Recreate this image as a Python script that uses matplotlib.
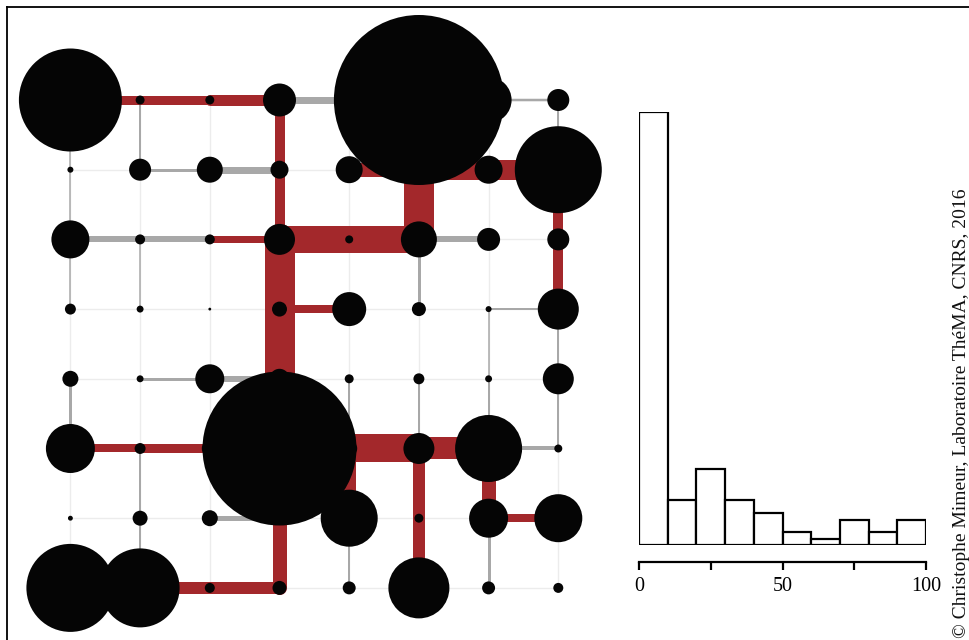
import numpy as np
import matplotlib
matplotlib.use("Agg")
import matplotlib.pyplot as plt
from matplotlib.lines import Line2D

# ---------------- data ----------------
# node weights (8 x 8 grid, row 0 = top); marker radius ~ sqrt(weight)
node_weight = [
    [2652, 20, 20, 272, 64, 7225, 529, 121],
    [9, 121, 169, 81, 182, 100, 196, 1892],
    [361, 25, 25, 240, 16, 324, 132, 121],
    [30, 12, 2, 56, 289, 49, 9, 420],
    [64, 12, 210, 100, 20, 30, 12, 240],
    [600, 30, 64, 5929, 64, 240, 1122, 16],
    [6, 56, 64, 36, 812, 20, 380, 576],
    [1936, 1560, 25, 49, 42, 930, 42, 25],
]
# horizontal links: row r, between column c and c+1 : flow value
h_flow = [
    [9, 9, 11, 7, 10, 2, 2.5],
    [0, 3, 7, 0, 14, 19, 20],
    [6, 6, 7, 27, 27, 6, 0],
    [0, 0, 0, 8, 0, 0, 2],
    [0, 3, 6, 0, 0, 0, 0],
    [8, 9, 9, 28, 28, 22, 4],
    [0, 0, 5, 0, 0, 0, 8],
    [12, 12, 12, 0, 0, 0, 0],
]
# link type: 0 none, 1 secondary (grey), 2 main (red)
h_type = [
    [2, 2, 2, 1, 2, 1, 1],
    [0, 1, 1, 0, 2, 2, 2],
    [1, 1, 2, 2, 2, 1, 0],
    [0, 0, 0, 2, 0, 0, 1],
    [0, 1, 1, 0, 0, 0, 0],
    [2, 2, 2, 2, 2, 2, 1],
    [0, 0, 1, 0, 0, 0, 2],
    [2, 2, 2, 0, 0, 0, 0],
]
# vertical links: column c, between row r and r+1
v_flow = [
    [1.5, 1.5, 1.5, 0, 3, 0, 0],
    [2, 0, 1.5, 0, 0, 2, 2],
    [0, 0, 0, 0, 0, 0, 0],
    [10, 10, 30, 30, 30, 14, 14],
    [0, 0, 0, 0, 2, 14, 2],
    [30, 30, 3, 0, 2, 12, 12],
    [0, 0, 0, 1.5, 2, 14, 3],
    [2, 10, 10, 2, 2, 0, 0],
]
v_type = [
    [1, 1, 1, 0, 1, 0, 0],
    [1, 0, 1, 0, 0, 1, 1],
    [0, 0, 0, 0, 0, 0, 0],
    [2, 2, 2, 2, 2, 2, 2],
    [0, 0, 0, 0, 1, 2, 1],
    [2, 2, 1, 0, 1, 2, 2],
    [0, 0, 0, 1, 1, 2, 1],
    [1, 2, 2, 1, 1, 0, 0],
]
# histogram of link flows
hist_edges = [0, 10, 20, 30, 40, 50, 60, 70, 80, 90, 100]
hist_counts = [68, 7, 12, 7, 5, 2, 1, 4, 2, 4]
hist_ticks = [0, 25, 50, 75, 100]
hist_ticklabels = ["0", "", "50", "", "100"]
credit = "\u00a9 Christophe Mimeur, Laboratoire Th\u00e9MA, CNRS, 2016"

# ---------------- figure ----------------
W, H, DPI = 969, 640, 100
fig = plt.figure(figsize=(W / DPI, H / DPI), dpi=DPI)
fig.patch.set_facecolor("white")
PT = 72.0 / DPI  # points per pixel

def rect(l, t, r, b):
    return [l / W, 1 - b / H, (r - l) / W, (b - t) / H]

RED = "#A3282B"
GREY = "#A8A8A8"
FAINT = "#ECECEC"

# network panel
x0, y0, step = 70.4, 100.0, 69.7
L, T, R, B = 10, 10, 615, 635
ax = fig.add_axes(rect(L, T, R, B))
ax.set_xlim((L - x0) / step, (R - x0) / step)
ax.set_ylim((B - y0) / step, (T - y0) / step)
ax.axis("off")

n = 8
# faint background grid
for r in range(n):
    ax.plot([0, n - 1], [r, r], color=FAINT, lw=1.0, zorder=1)
for c in range(n):
    ax.plot([c, c], [0, n - 1], color=FAINT, lw=1.0, zorder=1)

segs = []
for r in range(n):
    for c in range(n - 1):
        segs.append(((c, r), (c + 1, r), h_flow[r][c], h_type[r][c]))
for c in range(n):
    for r in range(n - 1):
        segs.append(((c, r), (c, r + 1), v_flow[c][r], v_type[c][r]))

for kind, col, z in [(1, GREY, 2), (2, RED, 3)]:
    for (a, b, f, t) in segs:
        if t == kind and f > 0:
            ax.plot([a[0], b[0]], [a[1], b[1]], color=col, lw=f * PT,
                    solid_capstyle="round", zorder=z)

xs, ys, ss = [], [], []
for r in range(n):
    for c in range(n):
        rad = np.sqrt(node_weight[r][c])
        xs.append(c)
        ys.append(r)
        ss.append((2 * rad * PT) ** 2)
ax.scatter(xs, ys, s=ss, color="#050505", linewidths=0, zorder=5, clip_on=False)

# histogram panel
hx = fig.add_axes(rect(639, 111.5, 926, 545))
hx.bar(hist_edges[:-1], hist_counts, width=10, align="edge",
       facecolor="white", edgecolor="black", linewidth=1.6)
hx.set_xlim(0, 100)
hx.set_ylim(0, 68)
for s in ["top", "left", "right"]:
    hx.spines[s].set_visible(False)
hx.spines["bottom"].set_position(("outward", 17 * PT))
hx.spines["bottom"].set_bounds(0, 100)
hx.spines["bottom"].set_linewidth(1.6)
hx.set_yticks([])
hx.set_xticks(hist_ticks)
hx.set_xticklabels(hist_ticklabels, family="Liberation Serif", fontsize=14.5)
hx.tick_params(axis="x", direction="out", length=8 * PT, width=1.6, pad=5)
hx.patch.set_alpha(0)

# credit text
fig.text(961 / W, 2 / H, credit, rotation=90, ha="center", va="bottom",
         family="Liberation Serif", fontsize=14, color="#111111")

# outer frame (left and top edges visible)
fig.add_artist(Line2D([7 / W, 7 / W], [0, 1 - 7 / H], color="black", lw=1.3,
                      transform=fig.transFigure))
fig.add_artist(Line2D([7 / W, 1], [1 - 7 / H, 1 - 7 / H], color="black", lw=1.3,
                      transform=fig.transFigure))

fig.savefig("out.png", dpi=DPI)
